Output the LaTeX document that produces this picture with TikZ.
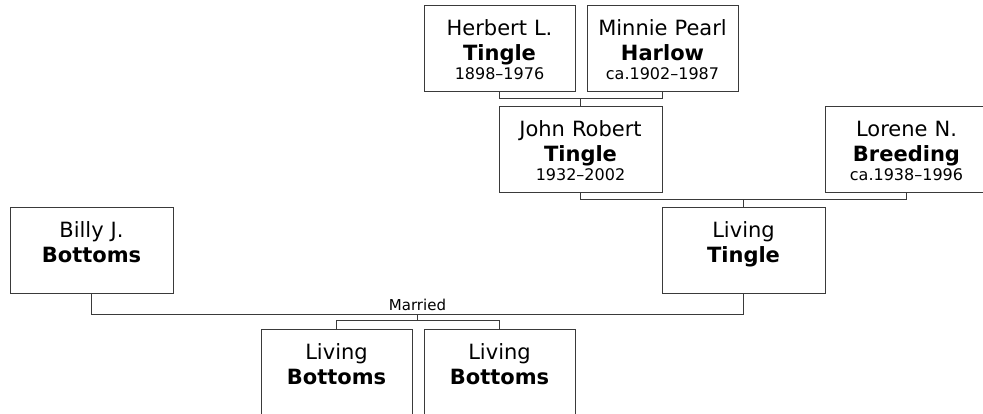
\documentclass[tikz,border=0pt]{standalone}
\usepackage{fontspec}
\setmainfont{DejaVu Sans}
\usepackage{tikz}
\definecolor{linegray}{HTML}{3A3A3A}
\newcommand{\namefont}{\fontsize{21}{25}\selectfont}
\newcommand{\datefont}{\fontsize{16}{19}\selectfont}

\begin{document}
\begin{tikzpicture}[x=1pt,y=-1pt,
  person/.style={draw=linegray, line width=1pt, inner sep=0pt, text width=#1, align=center,
    text height=30pt, text depth=56pt, font=\namefont},
  person/.default=151pt,
  link/.style={draw=linegray, line width=1.1pt}]
\useasboundingbox (0,0) rectangle (983,413);
\clip (0,0) rectangle (983,413);
% grandparents
\node[person] (herb) at (499.5,48) {Herbert L.\\\textbf{Tingle}\\[-6pt]{\datefont 1898--1976}};
\node[person] (minnie) at (662.5,48) {Minnie Pearl\\\textbf{Harlow}\\[-6pt]{\datefont ca.1902--1987}};
% parents
\node[person=163pt] (john) at (580.5,149) {John Robert\\\textbf{Tingle}\\[-6pt]{\datefont 1932--2002}};
\node[person=163pt] (lorene) at (906.5,149) {Lorene N.\\\textbf{Breeding}\\[-6pt]{\datefont ca.1938--1996}};
% couple
\node[person=163pt] (billy) at (91.5,250) {Billy J.\\\textbf{Bottoms}};
\node[person=163pt] (tingle) at (743.5,250) {Living\\\textbf{Tingle}};
% children
\node[person] (kidA) at (336.5,372) {Living\\\textbf{Bottoms}};
\node[person] (kidB) at (499.5,372) {Living\\\textbf{Bottoms}};
\node[above, inner sep=3pt, font=\fontsize{15}{18}\selectfont] (married) at (417.5,314) {Married};

\draw[link] (herb.south) -- ++(0,7) -| (minnie.south);
\draw[link] (john.north) -- ++(0,-8);
\draw[link] (john.south) -- ++(0,7) -| (lorene.south);
\draw[link] (tingle.north) -- ++(0,-8);
\draw[link] (billy.south) -- ++(0,21) -| (tingle.south);
\draw[link] (married.south) -- ++(0,7);
\draw[link] (kidA.north) -- ++(0,-8) -| (kidB.north);
\end{tikzpicture}
\end{document}
